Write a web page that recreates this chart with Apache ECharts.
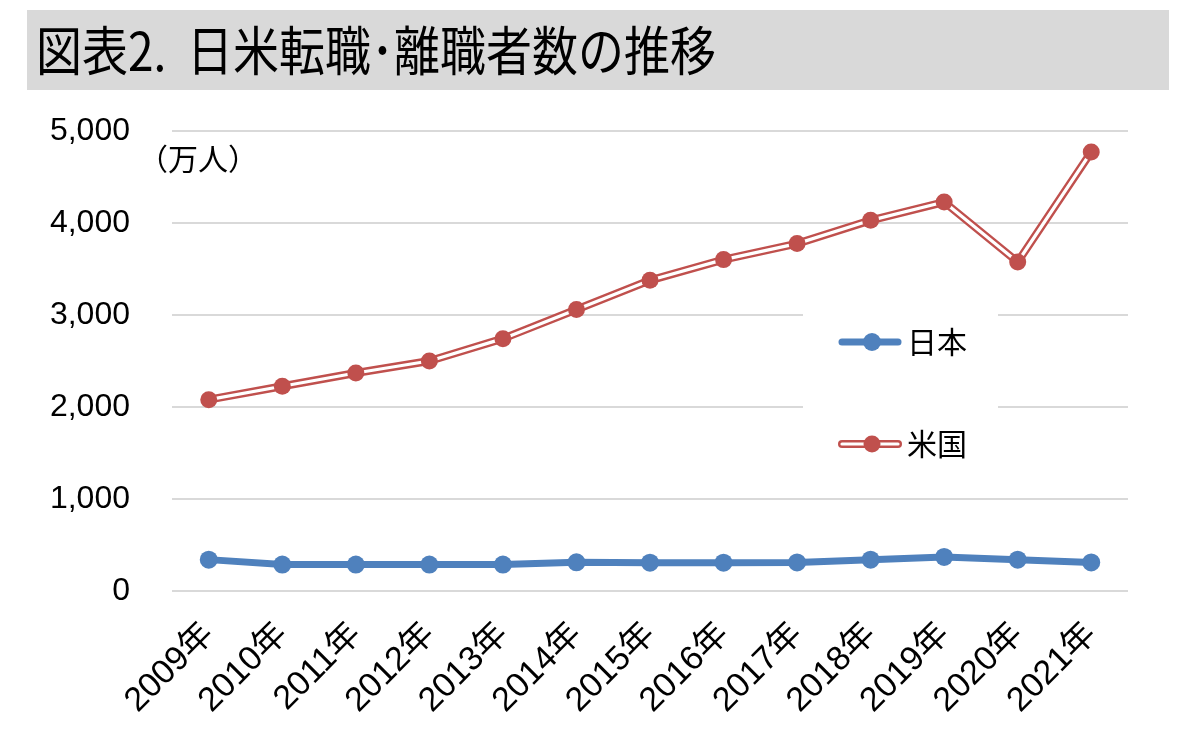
<!DOCTYPE html>
<html>
<head>
<meta charset="utf-8">
<script src="https://cdn.jsdelivr.net/npm/echarts@6.0.0/dist/echarts.min.js"></script>
<style>
html,body{margin:0;padding:0;background:#fff;}
#chart{width:1200px;height:756px;}
</style>
</head>
<body>
<div id="chart"></div>
<script>
const years = ['2009年','2010年','2011年','2012年','2013年','2014年','2015年','2016年','2017年','2018年','2019年','2020年','2021年'];
const japan = [341, 287, 287, 287, 287, 312, 308, 308, 310, 340, 370, 340, 310];
const us = [2080, 2225, 2370, 2500, 2743, 3059, 3377, 3602, 3776, 4029, 4228, 3576, 4772];
const yTicks = [0, 1000, 2000, 3000, 4000, 5000];

const BLUE = '#4F81BD';
const RED = '#C0504D';
const LATIN = "'Liberation Sans', Arial, 'Noto Sans CJK JP', sans-serif";
const CJK = "'Noto Sans CJK JP', sans-serif";

function svgIcon(svg) {
  return 'image://data:image/svg+xml;charset=utf-8,' + encodeURIComponent(svg);
}
const jpIcon = svgIcon('<svg xmlns="http://www.w3.org/2000/svg" width="64" height="20" viewBox="0 0 64 20">' +
  '<line x1="4" y1="10" x2="60" y2="10" stroke="' + BLUE + '" stroke-width="7" stroke-linecap="round"/>' +
  '<circle cx="34" cy="10" r="9" fill="' + BLUE + '"/></svg>');
const usIcon = svgIcon('<svg xmlns="http://www.w3.org/2000/svg" width="64" height="20" viewBox="0 0 64 20">' +
  '<line x1="4" y1="10" x2="60" y2="10" stroke="' + RED + '" stroke-width="8" stroke-linecap="round"/>' +
  '<line x1="4" y1="10" x2="60" y2="10" stroke="#fff" stroke-width="3.2" stroke-linecap="round"/>' +
  '<circle cx="34" cy="10" r="8.5" fill="' + RED + '"/></svg>');

const chart = echarts.init(document.getElementById('chart'), null, {renderer: 'canvas'});
chart.setOption({
  animation: false,
  backgroundColor: '#fff',
  grid: {left: 172, right: 72, top: 131, bottom: 165, containLabel: false, outerBoundsMode: 'none'},
  xAxis: {
    type: 'category',
    data: years,
    boundaryGap: true,
    axisLine: {show: false},
    axisTick: {show: false},
    axisLabel: {rotate: 45, fontSize: 34, color: '#000', fontFamily: LATIN, margin: 38, interval: 0}
  },
  yAxis: {
    type: 'value',
    min: 0, max: 5000, interval: 1000,
    axisLine: {show: false},
    axisTick: {show: false},
    axisLabel: {fontSize: 32, color: '#000', fontFamily: LATIN, margin: 42,
      formatter: v => yTicks.indexOf(v) >= 0 ? v.toLocaleString('en-US') : ''},
    splitLine: {lineStyle: {color: '#d9d9d9', width: 2}}
  },
  legend: {
    orient: 'vertical',
    left: 803, top: 300,
    padding: [27, 31, 20, 35],
    backgroundColor: '#ffffff',
    itemWidth: 64, itemHeight: 20, itemGap: 72,
    selectedMode: false,
    textStyle: {fontSize: 30, color: '#000', fontFamily: CJK, lineHeight: 30},
    data: [
      {name: '日本', icon: jpIcon},
      {name: '米国', icon: usIcon}
    ]
  },
  graphic: [
    {type: 'rect', left: 27, top: 10, shape: {width: 1142, height: 80}, style: {fill: '#d9d9d9'}, z: 0},
    {type: 'text', x: 36, y: 60, scaleY: 1.15, originY: 60,
      style: {text: '図表2.  日米転職･離職者数の推移', font: "46px 'Noto Sans CJK JP', sans-serif",
        fill: '#000', verticalAlign: 'middle', textAlign: 'left'}, z: 1},
    {type: 'text', left: 138, top: 144,
      style: {text: '（万人）', font: "30px 'Noto Sans CJK JP', sans-serif", fill: '#000'}, z: 1}
  ],
  series: [
    {name: '日本', type: 'line', data: japan, z: 3,
      lineStyle: {color: BLUE, width: 7}, itemStyle: {color: BLUE},
      symbol: 'circle', symbolSize: 18},
    {name: '米国-outer', type: 'line', data: us, z: 2, silent: true,
      lineStyle: {color: RED, width: 8}, symbol: 'none'},
    {name: '米国-inner', type: 'line', data: us, z: 3, silent: true,
      lineStyle: {color: '#ffffff', width: 3.2}, symbol: 'none'},
    {name: '米国', type: 'line', data: us, z: 4,
      lineStyle: {width: 0, opacity: 0}, itemStyle: {color: RED},
      symbol: 'circle', symbolSize: 17}
  ]
});
</script>
</body>
</html>
